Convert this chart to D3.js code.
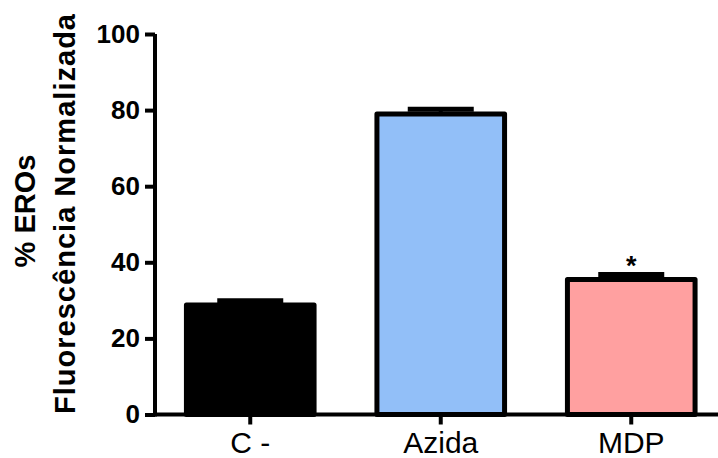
<!DOCTYPE html>
<html>
<head>
<meta charset="utf-8">
<script src="https://cdn.jsdelivr.net/npm/d3@7"></script>
<style>
body{margin:0;background:#fff;}
svg{display:block;font-family:"Liberation Sans",Arial,sans-serif;}
</style>
</head>
<body>
<div id="chart-area"></div>
<script>
// data
let categories=["C -","Azida","MDP"];
let means=[28.8,79.0,35.5];
let sems=[1.1,1.2,1.3];
let marks=["","","*"];
let yTicks=[0,20,40,60,80,100];
let barColors=["#000000","#92BFF8","#FFA0A0"];

let width=718,height=458;

let svg=d3.select("#chart-area").append('svg')
	.attr('width',width)
	.attr('height',height);

//---------SCALES--------------
let x=d3.scaleBand()
	.domain(categories)
	.range([155,726.5])
	.paddingInner(0.33)
	.paddingOuter(0.165);

let y=d3.scaleLinear()
	.domain([0,100])
	.range([414.5,34]);

let color=d3.scaleOrdinal()
	.domain(categories)
	.range(barColors);

let data=categories.map((c,i)=>({cat:c,mean:means[i],sem:sems[i],mark:marks[i]}));

//---------BARS----------------
let bw=x.bandwidth();
let bars=svg.append('g');

// error bars (upper only) drawn first, bar covers the stem
bars.selectAll('line.err').data(data).enter().append('line')
	.attr('class','err')
	.attr('x1',d=>x(d.cat)+bw/2)
	.attr('x2',d=>x(d.cat)+bw/2)
	.attr('y1',d=>y(d.mean))
	.attr('y2',d=>y(d.mean+d.sem))
	.attr('stroke','#000')
	.attr('stroke-width',4);

bars.selectAll('line.cap').data(data).enter().append('line')
	.attr('class','cap')
	.attr('x1',d=>x(d.cat)+bw/2-33)
	.attr('x2',d=>x(d.cat)+bw/2+33)
	.attr('y1',d=>y(d.mean+d.sem))
	.attr('y2',d=>y(d.mean+d.sem))
	.attr('stroke','#000')
	.attr('stroke-width',5);

bars.selectAll('rect').data(data).enter().append('rect')
	.attr('x',d=>x(d.cat))
	.attr('y',d=>y(d.mean))
	.attr('width',bw)
	.attr('height',d=>y(0)-y(d.mean))
	.attr('fill',d=>color(d.cat))
	.attr('stroke','#000')
	.attr('stroke-width',5)
	.attr('stroke-linejoin','round');

bars.selectAll('text.mark').data(data).enter().append('text')
	.attr('class','mark')
	.attr('x',d=>x(d.cat)+bw/2)
	.attr('y',d=>y(d.mean+d.sem)+1)
	.attr('text-anchor','middle')
	.attr('font-size','27px')
	.attr('font-weight','bold')
	.text(d=>d.mark);

//-------AXES------------------
let yAxis=d3.axisLeft(y)
	.tickValues(yTicks)
	.tickSize(10)
	.tickSizeOuter(0)
	.tickPadding(5);

let yAxisGroup=svg.append('g')
	.attr('transform','translate(155,0)')
	.call(yAxis);

yAxisGroup.selectAll('path,line').attr('stroke','#000').attr('stroke-width',4);
yAxisGroup.select('.domain').attr('d','M0,'+y(100)+'V'+(y(0)+2));
yAxisGroup.selectAll('text')
	.attr('font-size','26px')
	.attr('font-weight','bold')
	.attr('font-family','"Liberation Sans",Arial,sans-serif')
	.attr('fill','#000');

let xAxis=d3.axisBottom(x)
	.tickSize(10)
	.tickSizeOuter(0)
	.tickPadding(7);

let xAxisGroup=svg.append('g')
	.attr('transform','translate(0,'+y(0)+')')
	.call(xAxis);

xAxisGroup.selectAll('path,line').attr('stroke','#000').attr('stroke-width',4);
xAxisGroup.select('.domain').attr('d','M153,0H718');
xAxisGroup.selectAll('text')
	.attr('font-size','30px')
	.attr('font-family','"Liberation Sans",Arial,sans-serif')
	.attr('fill','#000');

//------LABELS----------------
let yLabel=svg.append('text')
	.attr('transform','rotate(-90)')
	.attr('text-anchor','middle')
	.attr('font-size','29px')
	.attr('font-weight','bold');

yLabel.append('tspan')
	.attr('x',-211)
	.attr('y',35)
	.text('% EROs');

yLabel.append('tspan')
	.attr('x',-214)
	.attr('y',75)
	.attr('textLength',400)
	.attr('lengthAdjust','spacing')
	.text('Fluorescência Normalizada');
</script>
</body>
</html>
